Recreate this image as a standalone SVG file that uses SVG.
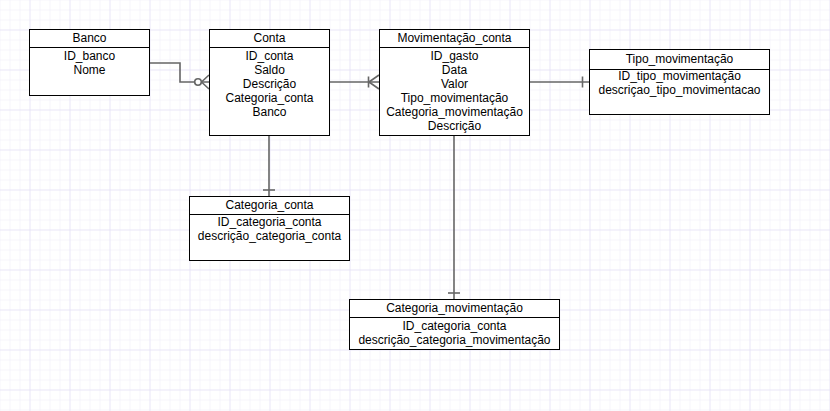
<svg xmlns="http://www.w3.org/2000/svg" width="830" height="411" viewBox="0 0 830 411">
  <defs>
    <pattern id="minorGrid" x="9.5" y="9.5" width="10" height="10" patternUnits="userSpaceOnUse">
      <path d="M0 0H10M0 0V10" fill="none" stroke="#edebf8" stroke-width="1"/>
    </pattern>
    <pattern id="majorGrid" x="29.5" y="29.5" width="40" height="40" patternUnits="userSpaceOnUse">
      <path d="M0 0H40M0 0V40" fill="none" stroke="#e0dcf3" stroke-width="1"/>
    </pattern>
  </defs>
  <style>
    .box { fill: #ffffff; stroke: #000000; stroke-width: 1; }
    .sep { stroke: #000000; stroke-width: 1; }
    text { font-family: "Liberation Sans", Arial, Helvetica, sans-serif; font-size: 12px; fill: #000000; text-anchor: middle; }
    .edge { fill: none; stroke: #666666; stroke-width: 1.6; }
    .notch { fill: #ffffff; stroke: #666666; stroke-width: 1.6; }
  </style>

  <!-- background grid -->
  <rect x="0" y="0" width="830" height="411" fill="#ffffff"/>
  <rect x="0" y="0" width="830" height="411" fill="url(#minorGrid)"/>
  <rect x="0" y="0" width="830" height="411" fill="url(#majorGrid)"/>

  <!-- relationships -->
  <g id="connectors">
    <!-- Banco to Conta: zero-or-many -->
    <path class="edge" d="M150 63H180V82H209"/>
    <circle class="notch" cx="198" cy="82" r="3.3"/>
    <path class="edge" d="M201.5 82L209 75M201.5 82L209 89"/>
    <!-- Conta to Movimentação_conta: one-to-many -->
    <path class="edge" d="M330 82H379"/>
    <path class="edge" d="M368.5 76.5V87.5M369 82L379 75M369 82L379 89"/>
    <!-- Movimentação_conta to Tipo_movimentação -->
    <path class="edge" d="M530 82H589"/>
    <path class="edge" d="M582.5 76.5V87.5"/>
    <!-- Conta to Categoria_conta -->
    <path class="edge" d="M269 136V196"/>
    <path class="edge" d="M263 190H275"/>
    <!-- Movimentação_conta to Categoria_movimentação -->
    <path class="edge" d="M454 136V299"/>
    <path class="edge" d="M448 293H460"/>
  </g>

  <g id="banco">
    <rect class="box" x="29.5" y="29.5" width="120" height="66"/>
    <line class="sep" x1="29.5" y1="47.5" x2="149.5" y2="47.5"/>
    <text x="89.5" y="41.5">Banco</text>
    <text x="89.5" y="59.5">ID_banco</text>
    <text x="89.5" y="73.5">Nome</text>
  </g>

  <g id="conta">
    <rect class="box" x="209.5" y="29.5" width="120" height="106"/>
    <line class="sep" x1="209.5" y1="47.5" x2="329.5" y2="47.5"/>
    <text x="269.5" y="41.5">Conta</text>
    <text x="269.5" y="59.5">ID_conta</text>
    <text x="269.5" y="73.5">Saldo</text>
    <text x="269.5" y="87.5">Descrição</text>
    <text x="269.5" y="101.5">Categoria_conta</text>
    <text x="269.5" y="115.5">Banco</text>
  </g>

  <g id="movimentacao_conta">
    <rect class="box" x="379.5" y="29.5" width="150" height="106"/>
    <line class="sep" x1="379.5" y1="47.5" x2="529.5" y2="47.5"/>
    <text x="454.5" y="41.5">Movimentação_conta</text>
    <text x="454.5" y="59.5">ID_gasto</text>
    <text x="454.5" y="73.5">Data</text>
    <text x="454.5" y="87.5">Valor</text>
    <text x="454.5" y="101.5">Tipo_movimentação</text>
    <text x="454.5" y="115.5">Categoria_movimentação</text>
    <text x="454.5" y="129.5">Descrição</text>
  </g>

  <g id="tipo_movimentacao">
    <rect class="box" x="589.5" y="49.5" width="180" height="65"/>
    <line class="sep" x1="589.5" y1="69.5" x2="769.5" y2="69.5"/>
    <text x="679.5" y="62.5">Tipo_movimentação</text>
    <text x="679.5" y="79.5">ID_tipo_movimentação</text>
    <text x="679.5" y="93.5">descriçao_tipo_movimentacao</text>
  </g>

  <g id="categoria_conta">
    <rect class="box" x="189.5" y="196.5" width="160" height="64"/>
    <line class="sep" x1="189.5" y1="214.5" x2="349.5" y2="214.5"/>
    <text x="269.5" y="208.5">Categoria_conta</text>
    <text x="269.5" y="225.5">ID_categoria_conta</text>
    <text x="269.5" y="239.5">descrição_categoria_conta</text>
  </g>

  <g id="categoria_movimentacao">
    <rect class="box" x="349.5" y="299.5" width="210" height="50"/>
    <line class="sep" x1="349.5" y1="317.5" x2="559.5" y2="317.5"/>
    <text x="454.5" y="311.5">Categoria_movimentação</text>
    <text x="454.5" y="329.5">ID_categoria_conta</text>
    <text x="454.5" y="343.5">descrição_categoria_movimentação</text>
  </g>
</svg>
